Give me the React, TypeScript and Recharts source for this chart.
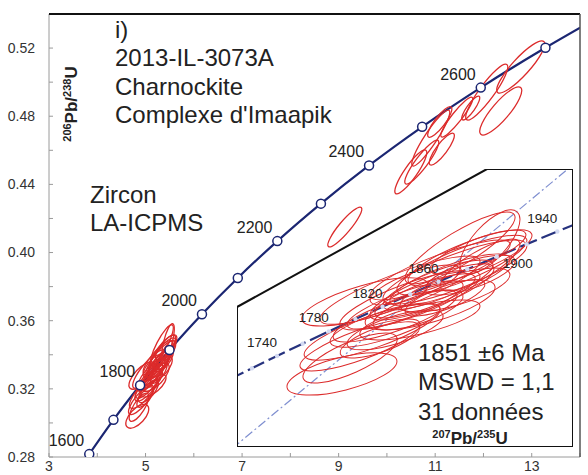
import React from 'react';
import { ComposedChart, Line, Scatter, XAxis, YAxis } from 'recharts';

const FONT = '"Liberation Sans", Arial, Helvetica, sans-serif';
const NAVY = '#1b2672';
const RED = '#dc2b2b';
const TEXT = '#222';

// Concordia curve: ages (Ma) with 207Pb/235U (x) and 206Pb/238U (y)
const concordiaAges = [1600, 1700, 1800, 1900, 2000, 2100, 2200, 2300, 2400, 2500, 2600, 2700, 2750];
const concordiaX = [3.834, 4.335, 4.887, 5.496, 6.169, 6.911, 7.730, 8.633, 9.630, 10.730, 11.944, 13.284, 14.004];
const concordiaY = [0.2817, 0.3018, 0.3221, 0.3428, 0.3638, 0.3851, 0.4067, 0.4287, 0.4511, 0.4738, 0.4968, 0.5202, 0.5320];
const mainLabelAges = [1600, 1800, 2000, 2200, 2400, 2600];

// Enlarged concordia segment for the inset
const insetAges = [1700, 1720, 1740, 1760, 1780, 1800, 1820, 1840, 1860, 1880, 1900, 1920, 1940, 1960];
const insetX = [4.3348, 4.4409, 4.5491, 4.6595, 4.7721, 4.8869, 5.004, 5.1234, 5.2453, 5.3695, 5.4962, 5.6254, 5.7572, 5.8916];
const insetY = [0.30175, 0.3058, 0.30986, 0.31393, 0.31801, 0.3221, 0.32621, 0.33033, 0.33447, 0.33861, 0.34278, 0.34695, 0.35113, 0.35533];
const insetLabelAges = [1740, 1780, 1820, 1860, 1900, 1940];

// Chord from the origin through the 1851 Ma concordia point
const refLineX = [4.3, 5.9];
const refLineY = [0.2756, 0.3781];

// Error ellipses: [207Pb/235U, 206Pb/238U, half-extent x, half-extent y, rho]
const clusterEllipses = [
  [4.829, 0.3039, 0.237, 0.007, 0.6],
  [4.864, 0.3092, 0.203, 0.0083, 0.75],
  [4.907, 0.3135, 0.259, 0.0086, 0.8],
  [4.959, 0.3178, 0.293, 0.0093, 0.8],
  [5.015, 0.3201, 0.237, 0.0073, 0.75],
  [5.058, 0.3231, 0.267, 0.0086, 0.8],
  [5.101, 0.3268, 0.25, 0.008, 0.82],
  [5.122, 0.3284, 0.302, 0.0099, 0.8],
  [5.157, 0.3251, 0.194, 0.0066, 0.7],
  [5.187, 0.3298, 0.216, 0.0073, 0.8],
  [5.217, 0.3311, 0.267, 0.0093, 0.82],
  [5.243, 0.3334, 0.237, 0.0083, 0.8],
  [5.273, 0.3291, 0.172, 0.006, 0.75],
  [5.295, 0.3351, 0.259, 0.0086, 0.8],
  [5.316, 0.3377, 0.31, 0.0106, 0.82],
  [5.346, 0.34, 0.28, 0.0099, 0.82],
  [5.381, 0.3424, 0.267, 0.0093, 0.8],
  [5.415, 0.3443, 0.207, 0.0073, 0.78],
  [5.338, 0.3457, 0.237, 0.0119, 0.85],
  [5.467, 0.3477, 0.129, 0.0106, 0.7],
  [5.079, 0.3317, 0.345, 0.0113, 0.85],
  [5.165, 0.3218, 0.259, 0.0066, 0.7],
  [4.993, 0.3152, 0.172, 0.006, 0.7],
  [4.928, 0.3278, 0.272, 0.008, 0.7],
  [5.252, 0.3384, 0.302, 0.0099, 0.85],
  [5.144, 0.3334, 0.194, 0.0066, 0.75],
  [5.058, 0.3185, 0.207, 0.0066, 0.7],
  [5.209, 0.3268, 0.28, 0.0083, 0.7],
  [5.381, 0.3367, 0.194, 0.0066, 0.7],
  [5.316, 0.3317, 0.237, 0.0073, 0.7],
  [5.424, 0.34, 0.172, 0.0086, 0.8],
];
const olderEllipses = [
  [9.128, 0.415, 0.352, 0.0117, 0.9],
  [10.495, 0.4473, 0.331, 0.0129, 0.88],
  [10.722, 0.4531, 0.352, 0.0129, 0.9],
  [10.909, 0.4672, 0.393, 0.0164, 0.92],
  [11.137, 0.4607, 0.26, 0.0094, 0.85],
  [11.447, 0.4795, 0.331, 0.0117, 0.92],
  [11.737, 0.4848, 0.186, 0.007, 0.85],
  [11.095, 0.4766, 0.25, 0.009, 0.85],
  [12.068, 0.4942, 0.435, 0.0164, 0.9],
  [12.772, 0.5089, 0.497, 0.0153, 0.88],
  [12.358, 0.4831, 0.435, 0.0141, 0.85],
];

const xTicks = [3, 4, 5, 6, 7, 8, 9, 10, 11, 12, 13, 14];
const xLabels = [3, 5, 7, 9, 11, 13];
const yTicks = [0.28, 0.3, 0.32, 0.34, 0.36, 0.38, 0.4, 0.42, 0.44, 0.46, 0.48, 0.5, 0.52, 0.54];
const yLabels = [0.28, 0.32, 0.36, 0.4, 0.44, 0.48, 0.52];

// Layout
const W = 588;
const H = 475;
const MARGIN = { top: 14, right: 8, bottom: 0, left: 0 };
const Y_AXIS_W = 49;
const X_AXIS_H = 18;
const X_DOMAIN: [number, number] = [3, 14];
const Y_DOMAIN: [number, number] = [0.28, 0.54];
const PLOT_L = MARGIN.left + Y_AXIS_W;
const PLOT_R = W - MARGIN.right;
const PLOT_T = MARGIN.top;
const PLOT_B = H - X_AXIS_H;
const mainKx = (PLOT_R - PLOT_L) / (X_DOMAIN[1] - X_DOMAIN[0]);
const mainKy = (PLOT_B - PLOT_T) / (Y_DOMAIN[1] - Y_DOMAIN[0]);

const INSET = { left: 237, top: 169, width: 336, height: 278, cutX: 250, cutY: 138 };
const INSET_X_DOMAIN: [number, number] = [4.3766, 5.8249];
const INSET_Y_DOMAIN: [number, number] = [0.27969, 0.37186];
const insetKx = INSET.width / (INSET_X_DOMAIN[1] - INSET_X_DOMAIN[0]);
const insetKy = INSET.height / (INSET_Y_DOMAIN[1] - INSET_Y_DOMAIN[0]);

// Covariance ellipse drawn around the scaled centre point
const ellipseShape = (kx: number, ky: number, width: number) => (props: any) => {
  const { cx, cy } = props;
  const d = props.payload ?? props;
  const X = d.sx * kx;
  const Y = d.sy * ky;
  const a = X * X;
  const c = Y * Y;
  const b = -d.rho * X * Y;
  const ang = (0.5 * Math.atan2(2 * b, a - c) * 180) / Math.PI;
  const half = (a + c) / 2;
  const disc = Math.sqrt(Math.max(half * half - (a * c - b * b), 0));
  const rx = Math.sqrt(half + disc);
  const ry = Math.sqrt(Math.max(half - disc, 0));
  return (
    <ellipse
      cx={cx}
      cy={cy}
      rx={rx}
      ry={ry}
      transform={`rotate(${ang} ${cx} ${cy})`}
      fill="none"
      stroke={RED}
      strokeWidth={width}
    />
  );
};

const mainMarker = (props: any) => {
  const { cx, cy, payload } = props;
  return (
    <g>
      <circle cx={cx} cy={cy} r={4.5} fill="#fff" stroke={NAVY} strokeWidth={1.5} />
      {mainLabelAges.includes(payload.age) && (
        <text x={cx - 5} y={cy - 8} textAnchor="end" fontSize={16} fontFamily={FONT} fill={TEXT}>
          {payload.age}
        </text>
      )}
    </g>
  );
};

const insetMarker = (props: any) => {
  const { cx, cy, payload } = props;
  const labelled = insetLabelAges.includes(payload.age);
  const below = payload.age === 1900;
  return (
    <g>
      <circle cx={cx} cy={cy} r={2.2} fill="#d3daf2" />
      {labelled && (
        <text
          x={below ? cx + 6 : cx}
          y={below ? cy + 11 : cy - 9}
          textAnchor={below ? 'start' : 'end'}
          fontSize={13.5}
          fontFamily={FONT}
          fill={TEXT}
        >
          {payload.age}
        </text>
      )}
    </g>
  );
};

const XTick = (props: any) => {
  const { x, y, payload } = props;
  const v = payload.value;
  return (
    <g>
      <line x1={x} x2={x} y1={y} y2={y - 4} stroke="#9a9a9a" />
      {xLabels.includes(v) && (
        <text x={x} y={y + 4} dy="0.71em" textAnchor="middle" fontSize={14} fontFamily={FONT} fill="#333">
          {v}
        </text>
      )}
    </g>
  );
};

const YTick = (props: any) => {
  const { x, y, payload } = props;
  const v = payload.value;
  const labelled = yLabels.some((l) => Math.abs(l - v) < 1e-6);
  return (
    <g>
      <line x1={x} x2={x + 4} y1={y} y2={y} stroke="#9a9a9a" />
      {labelled && (
        <text x={x - 14} y={y} dy="0.35em" textAnchor="end" fontSize={14} fontFamily={FONT} fill="#333">
          {v.toFixed(2)}
        </text>
      )}
    </g>
  );
};

const Ratio = ({ top, bottom }: { top: string; bottom: string }) => (
  <>
    <tspan fontSize={11} dy={-6}>{top}</tspan>
    <tspan fontSize={17} dy={6}>Pb/</tspan>
    <tspan fontSize={11} dy={-6}>{bottom}</tspan>
    <tspan fontSize={17} dy={6}>U</tspan>
  </>
);

export default function App() {
  const curveData = concordiaAges.map((age, i) => ({ age, x: concordiaX[i], y: concordiaY[i] }));
  const markerData = curveData.filter((d) => d.age % 100 === 0);
  const toEllipse = (e: number[]) => ({ x: e[0], y: e[1], sx: e[2], sy: e[3], rho: e[4] });
  const cluster = clusterEllipses.map(toEllipse);
  const older = olderEllipses.map(toEllipse);
  const insetCurve = insetAges.map((age, i) => ({ age, x: insetX[i], y: insetY[i] }));
  const insetMarkers = insetCurve.filter((d) => d.age >= 1720 && d.age <= 1940);
  const refLine = refLineX.map((x, i) => ({ x, y: refLineY[i] }));

  const poly = `0,${INSET.cutY} ${INSET.cutX},0 ${INSET.width},0 ${INSET.width},${INSET.height} 0,${INSET.height}`;
  const textStyle = { fontFamily: FONT, fill: TEXT };

  return (
    <div style={{ position: 'absolute', left: 0, top: 0, width: W, height: H, background: '#fff', overflow: 'hidden' }}>
      <div style={{ position: 'absolute', left: 0, top: 0 }}>
        <ComposedChart width={W} height={H} margin={MARGIN}>
          <XAxis
            type="number"
            dataKey="x"
            domain={X_DOMAIN}
            ticks={xTicks}
            interval={0}
            height={X_AXIS_H}
            tickSize={0}
            tickMargin={0}
            tickLine={false}
            tick={XTick}
            axisLine={{ stroke: '#9a9a9a' }}
            allowDataOverflow
          />
          <YAxis
            type="number"
            dataKey="y"
            domain={Y_DOMAIN}
            ticks={yTicks}
            interval={0}
            width={Y_AXIS_W}
            tickSize={0}
            tickMargin={0}
            tickLine={false}
            tick={YTick}
            axisLine={{ stroke: '#9a9a9a' }}
            allowDataOverflow
          />
          <Scatter data={[...cluster, ...older]} shape={ellipseShape(mainKx, mainKy, 1.3)} isAnimationActive={false} />
          <Line data={curveData} dataKey="y" type="monotone" stroke={NAVY} strokeWidth={2.2} dot={false} isAnimationActive={false} />
          <Scatter data={markerData} shape={mainMarker} isAnimationActive={false} />
        </ComposedChart>
      </div>

      <div style={{ position: 'absolute', left: INSET.left, top: INSET.top, width: INSET.width, height: INSET.height }}>
        <svg width={INSET.width} height={INSET.height} style={{ position: 'absolute', left: 0, top: 0 }}>
          <polygon points={poly} fill="#fff" />
        </svg>
        <div style={{ position: 'absolute', left: 0, top: 0 }}>
          <ComposedChart width={INSET.width} height={INSET.height} margin={{ top: 0, right: 0, bottom: 0, left: 0 }}>
            <XAxis hide type="number" dataKey="x" domain={INSET_X_DOMAIN} allowDataOverflow />
            <YAxis hide type="number" dataKey="y" domain={INSET_Y_DOMAIN} allowDataOverflow />
            <Line data={refLine} dataKey="y" type="linear" stroke="#7f8fd0" strokeWidth={1.2} strokeDasharray="9 3 2 3" dot={false} isAnimationActive={false} />
            <Scatter data={cluster} shape={ellipseShape(insetKx, insetKy, 1)} isAnimationActive={false} />
            <Line data={insetCurve} dataKey="y" type="monotone" stroke="#26327e" strokeWidth={2.2} strokeDasharray="18 5" dot={false} isAnimationActive={false} />
            <Scatter data={insetMarkers} shape={insetMarker} isAnimationActive={false} />
          </ComposedChart>
        </div>
        <svg width={INSET.width} height={INSET.height} style={{ position: 'absolute', left: 0, top: 0, pointerEvents: 'none' }}>
          <polygon points={poly} fill="none" stroke="#111" strokeWidth={2} />
        </svg>
      </div>

      <svg width={W} height={H} style={{ position: 'absolute', left: 0, top: 0, pointerEvents: 'none' }}>
        <line x1={PLOT_L} x2={PLOT_R} y1={PLOT_T} y2={PLOT_T} stroke="#111" strokeWidth={2} />
        <line x1={PLOT_R} x2={PLOT_R} y1={PLOT_T} y2={PLOT_B} stroke="#555" strokeWidth={1.5} />

        <g fontSize={24} {...textStyle}>
          <text x={115} y={38}>i)</text>
          <text x={115} y={66}>2013-IL-3073A</text>
          <text x={115} y={95}>Charnockite</text>
          <text x={115} y={123}>Complexe d'Imaapik</text>
          <text x={90} y={203}>Zircon</text>
          <text x={90} y={231}>LA-ICPMS</text>
          <text x={418} y={361}>1851 ±6 Ma</text>
          <text x={418} y={390}>MSWD = 1,1</text>
          <text x={418} y={420}>31 données</text>
        </g>

        <text x={470} y={444} textAnchor="middle" fontWeight="bold" {...textStyle}>
          <Ratio top="207" bottom="235" />
        </text>
        <text x={77} y={104} textAnchor="middle" fontWeight="bold" transform="rotate(-90 77 104)" {...textStyle}>
          <Ratio top="206" bottom="238" />
        </text>
      </svg>
    </div>
  );
}
